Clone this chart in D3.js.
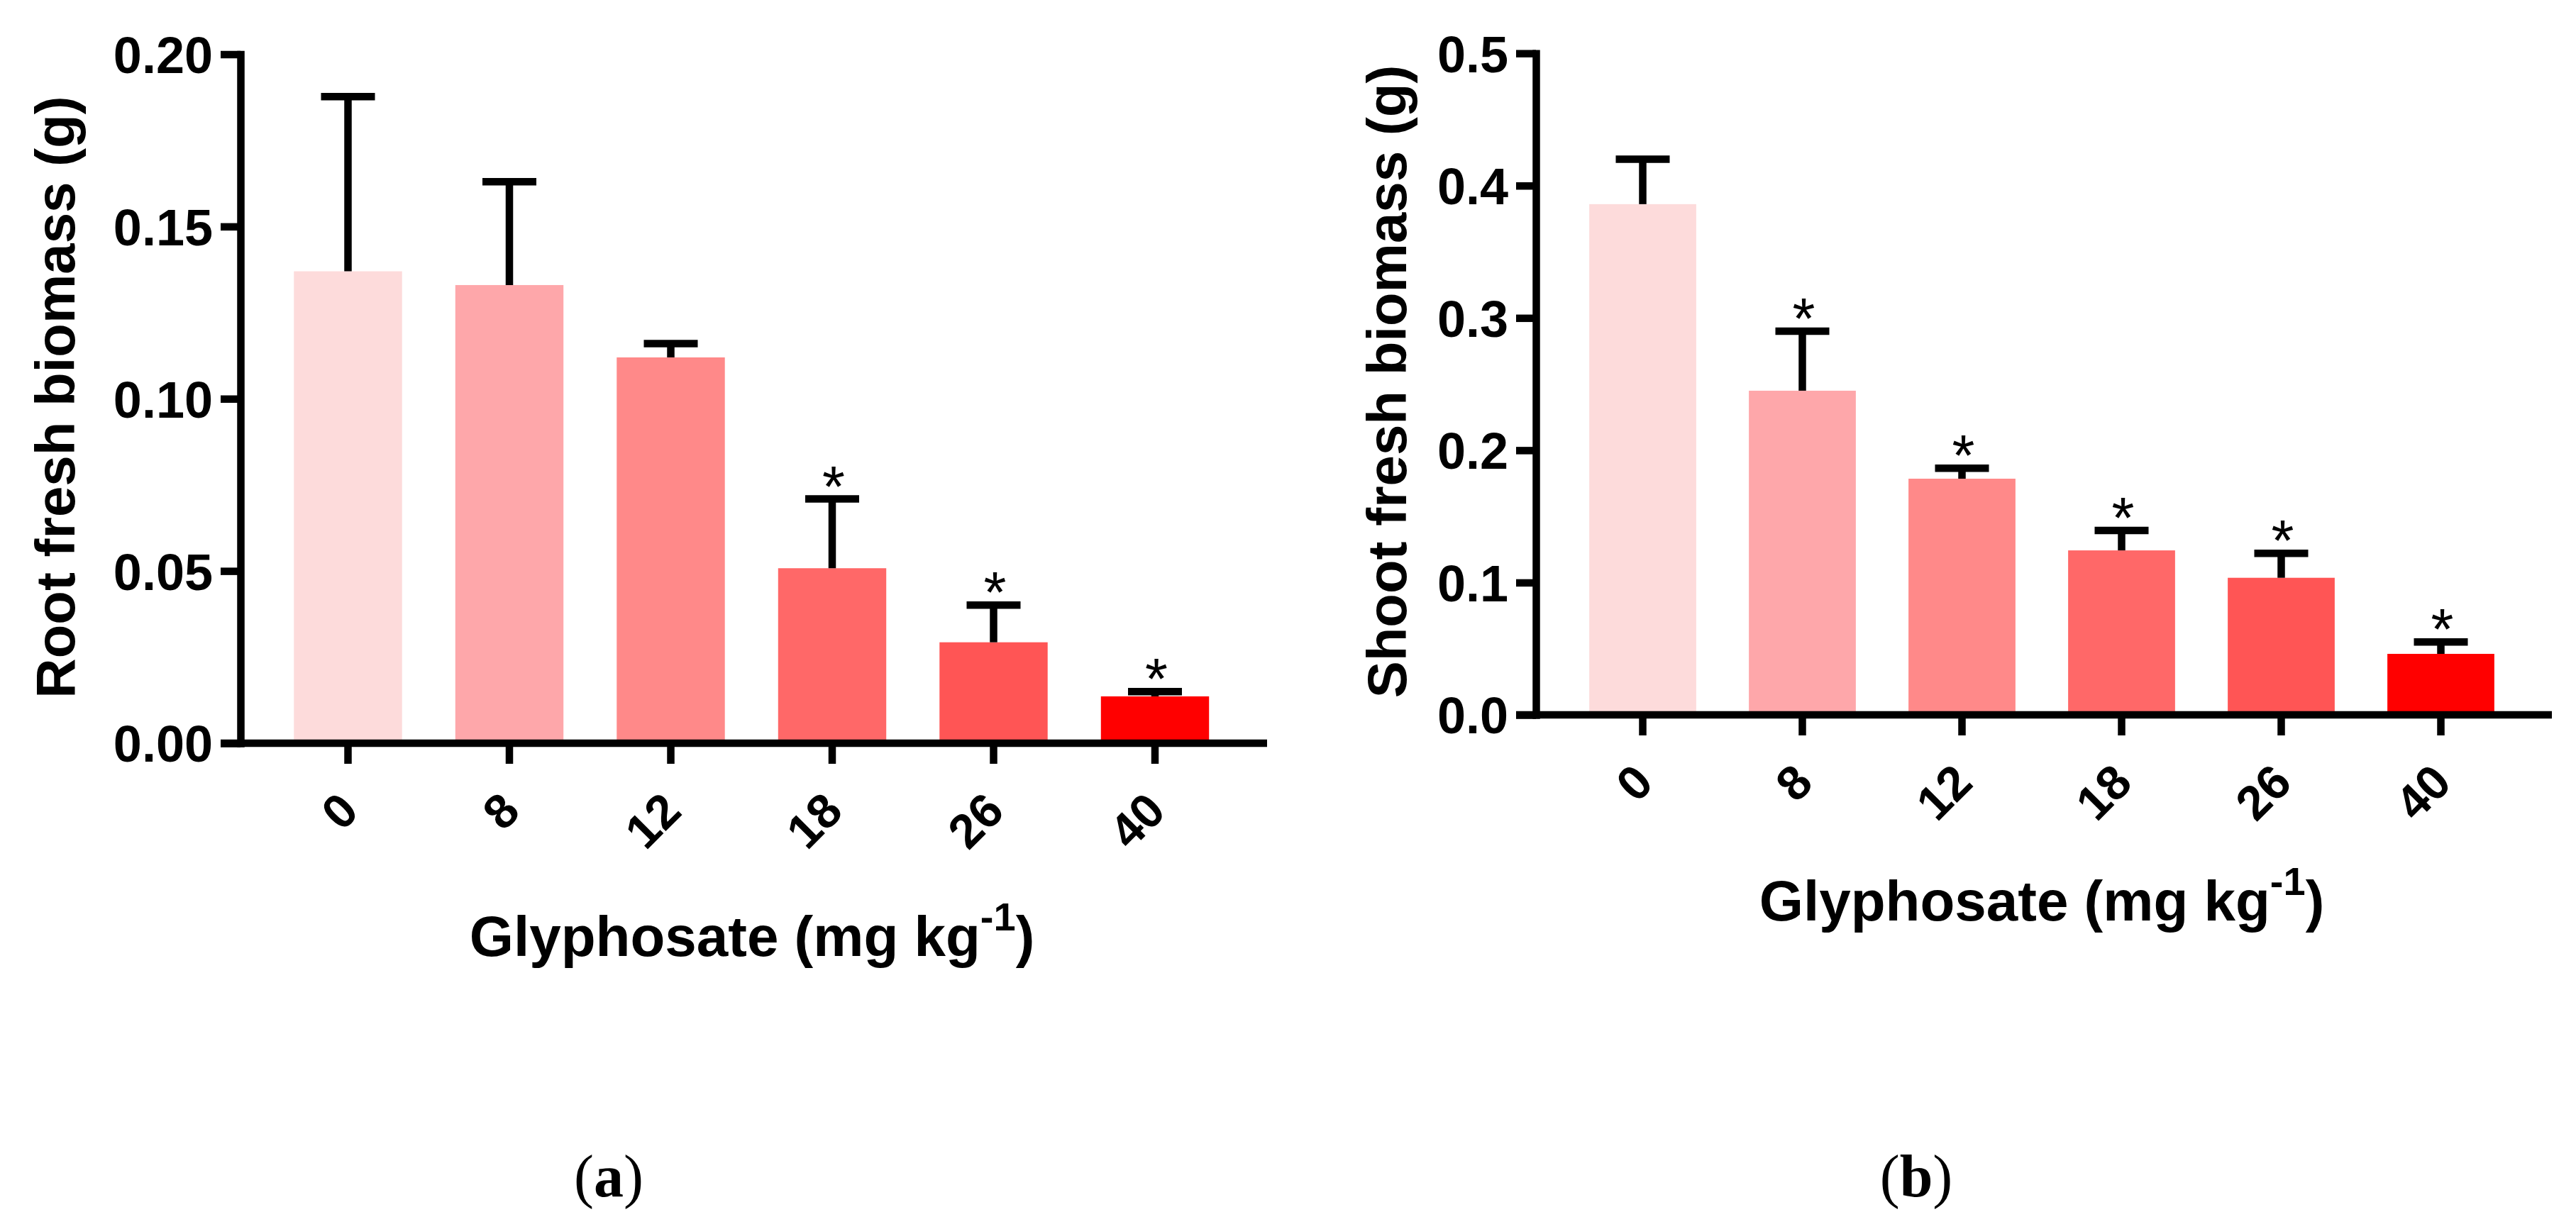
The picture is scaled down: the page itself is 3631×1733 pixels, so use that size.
<!DOCTYPE html>
<html>
<head>
<meta charset="utf-8">
<title>glyphosate biomass</title>
<script src="https://cdn.jsdelivr.net/npm/d3@7"></script>
<style>
    body { margin: 0; background: #fff; }
    svg { display: block; }
    text { font-family: "Liberation Sans", Arial, sans-serif; fill: #000; }
    .serif { font-family: "Liberation Serif", "Times New Roman", serif; }
</style>
</head>
<body>
<svg id="fig" width="3631" height="1733"></svg>

<script>
// data
const doses = ["0", "8", "12", "18", "26", "40"];
const barColors = ["#fddbdb", "#fea7aa", "#ff8989", "#ff6868", "#ff5555", "#ff0000"];

const rootMean = [0.137, 0.133, 0.112, 0.0508, 0.0293, 0.0136];
const rootErr  = [0.0507, 0.030, 0.004, 0.0201, 0.0108, 0.0014];
const rootSig  = [false, false, false, true, true, true];
const rootTicks = [0, 0.05, 0.10, 0.15, 0.20];

const shootMean = [0.386, 0.245, 0.1785, 0.1243, 0.1036, 0.0461];
const shootErr  = [0.034, 0.045, 0.0079, 0.0151, 0.0185, 0.009];
const shootSig  = [false, true, true, true, true, true];
const shootTicks = [0, 0.1, 0.2, 0.3, 0.4, 0.5];

const svg = d3.select("#fig");
const LW = 10.5;

function drawPanel(p) {
    let g = svg.append("g");

    let y = d3.scaleLinear().domain([0, p.ymax]).range([p.y0, p.y1]);
    let x = d3.scaleBand()
        .domain(doses)
        .range([p.c0 - p.step / 2, p.c0 + p.step * (doses.length - 0.5)])
        .paddingInner(0.33)
        .paddingOuter(0.165);

    // bars
    g.selectAll("rect.bar")
        .data(p.mean)
        .join("rect")
        .attr("class", "bar")
        .attr("x", (d, i) => x(doses[i]))
        .attr("width", x.bandwidth())
        .attr("y", d => y(d))
        .attr("height", d => y(0) - y(d))
        .attr("fill", (d, i) => barColors[i]);

    // error bars (upper only)
    let cx = i => x(doses[i]) + x.bandwidth() / 2;
    g.selectAll("line.err")
        .data(p.mean)
        .join("line")
        .attr("x1", (d, i) => cx(i))
        .attr("x2", (d, i) => cx(i))
        .attr("y1", d => y(d))
        .attr("y2", (d, i) => y(d + p.err[i]))
        .attr("stroke", "#000")
        .attr("stroke-width", LW);
    g.selectAll("line.cap")
        .data(p.mean)
        .join("line")
        .attr("x1", (d, i) => cx(i) - 38)
        .attr("x2", (d, i) => cx(i) + 38)
        .attr("y1", (d, i) => y(d + p.err[i]))
        .attr("y2", (d, i) => y(d + p.err[i]))
        .attr("stroke", "#000")
        .attr("stroke-width", LW);

    // significance stars
    g.selectAll("text.star")
        .data(p.mean.map((d, i) => ({v: d + p.err[i], i: i})).filter(d => p.sig[d.i]))
        .join("text")
        .attr("x", d => cx(d.i) + 2)
        .attr("y", d => y(d.v) + 10)
        .attr("text-anchor", "middle")
        .style("font-size", "82px")
        .text("*");

    // y axis
    let yAxis = g.append("g")
        .attr("transform", `translate(${p.ax},0)`)
        .call(d3.axisLeft(y).tickValues(p.ticks).tickFormat(d3.format(p.fmt))
            .tickSize(28).tickSizeOuter(0).tickPadding(p.pad));
    yAxis.select(".domain").attr("stroke-width", LW).attr("stroke-linecap", "square");
    yAxis.selectAll(".tick line").attr("stroke-width", LW);
    yAxis.selectAll(".tick text")
        .attr("dy", "0.36em")
        .style("font-size", "72px")
        .style("font-weight", "bold");

    // x axis
    let xAxis = g.append("g")
        .attr("transform", `translate(0,${p.y0})`)
        .call(d3.axisBottom(x).tickSize(29).tickSizeOuter(0));
    xAxis.select(".domain").remove();
    xAxis.append("line")
        .attr("x1", p.ax - 28).attr("x2", p.xend)
        .attr("stroke", "#000").attr("stroke-width", LW);
    xAxis.selectAll(".tick line").attr("stroke-width", LW);
    xAxis.selectAll(".tick text")
        .attr("x", 0).attr("y", 0).attr("dy", 0)
        .attr("text-anchor", "end")
        .attr("transform", "translate(18,99) rotate(-45)")
        .style("font-size", "68px")
        .style("font-weight", "bold");
    svg.selectAll(".tick text").attr("fill", "#000");

    // titles
    g.append("text")
        .attr("transform", `translate(${p.ytx},${p.yty}) rotate(-90)`)
        .attr("text-anchor", "middle")
        .style("font-size", "78px")
        .style("font-weight", "bold")
        .text(p.ytitle);

    let xt = g.append("text")
        .attr("x", p.xtx).attr("y", p.xty)
        .attr("text-anchor", "middle")
        .style("font-size", "80px")
        .style("font-weight", "bold");
    xt.append("tspan").text("Glyphosate (mg kg");
    xt.append("tspan").attr("dy", -36).style("font-size", "56px").text("-1");
    xt.append("tspan").attr("dy", 36).text(")");

    let lab = g.append("text")
        .attr("class", "serif")
        .attr("x", p.labx).attr("y", 1687)
        .attr("text-anchor", "middle")
        .style("font-size", "84px");
    lab.append("tspan").text("(");
    lab.append("tspan").style("font-weight", "bold").text(p.letter);
    lab.append("tspan").text(")");
}

drawPanel({
    mean: rootMean, err: rootErr, sig: rootSig, ticks: rootTicks, ymax: 0.20, fmt: ".2f",
    ax: 339, y0: 1048, y1: 76.5, c0: 490.5, step: 227.5, xend: 1786, pad: 11,
    ytitle: "Root fresh biomass (g)", ytx: 105, yty: 560,
    xtx: 1060, xty: 1348, labx: 858, letter: "a"
});

drawPanel({
    mean: shootMean, err: shootErr, sig: shootSig, ticks: shootTicks, ymax: 0.5, fmt: ".1f",
    ax: 2165, y0: 1008, y1: 75.2, c0: 2315.5, step: 225, xend: 3597, pad: 11,
    ytitle: "Shoot fresh biomass (g)", ytx: 1982, yty: 538,
    xtx: 2878, xty: 1298, labx: 2701, letter: "b"
});
</script>
</body>
</html>
